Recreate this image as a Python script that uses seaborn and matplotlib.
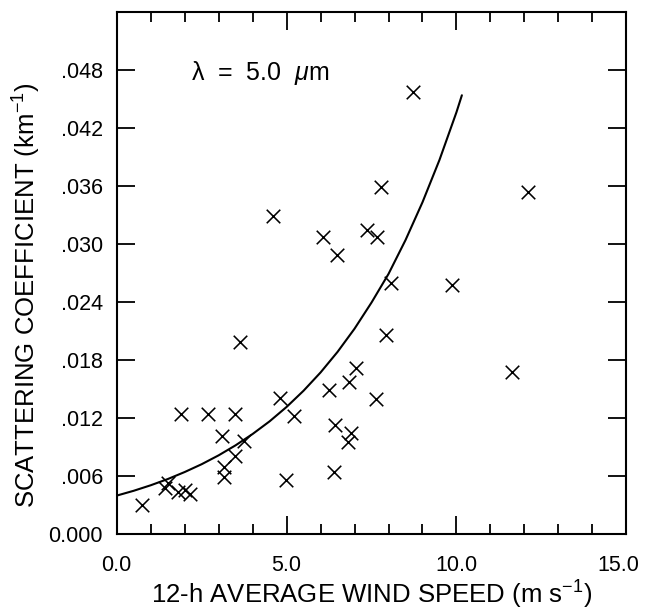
import matplotlib
matplotlib.use("Agg")
import matplotlib.pyplot as plt
from matplotlib.ticker import MultipleLocator
from matplotlib.transforms import ScaledTranslation
import seaborn as sns
import pandas as pd
import numpy as np

wind_speed = [0.74, 1.41, 1.50, 1.80, 2.00, 2.17, 1.88, 2.69, 3.47, 3.09,
              3.17, 3.17, 3.48, 3.76, 3.62, 4.81, 4.97, 5.21, 6.25, 6.43,
              6.41, 6.83, 7.03, 6.90, 6.80, 7.62, 7.93, 8.06, 9.87, 11.64,
              8.72, 7.78, 6.07, 6.48, 7.36, 7.66, 12.10, 4.60]
scattering = [0.0030, 0.0047, 0.0053, 0.0043, 0.0045, 0.0041, 0.0124, 0.0124, 0.0124, 0.0101,
              0.0069, 0.0059, 0.0081, 0.0096, 0.0199, 0.0141, 0.0056, 0.0122, 0.0149, 0.0113,
              0.0064, 0.0157, 0.0172, 0.0104, 0.0095, 0.0139, 0.0206, 0.0260, 0.0258, 0.0167,
              0.0457, 0.0359, 0.0307, 0.0289, 0.0314, 0.0307, 0.0354, 0.0329]

# fitted curve
curve_speed = [0.0, 0.5, 1.0, 1.5, 2.0, 2.5, 3.0, 3.5, 4.0, 4.5, 5.0, 5.5,
               6.0, 6.5, 7.0, 7.5, 8.0, 8.5, 9.0, 9.5, 10.0, 10.16]
curve_scatter = [0.00395, 0.00445, 0.00502, 0.00566, 0.00639, 0.00720, 0.00812, 0.00916,
                 0.01033, 0.01164, 0.01313, 0.01481, 0.01670, 0.01883, 0.02123, 0.02394,
                 0.02690, 0.03040, 0.03432, 0.03870, 0.04364, 0.04540]

x_ticks = [0.0, 5.0, 10.0, 15.0]
x_ticklabels = ["0.0", "5.0", "10.0", "15.0"]
y_ticks = [0.0, 0.006, 0.012, 0.018, 0.024, 0.030, 0.036, 0.042, 0.048]
y_ticklabels = ["0.000", ".006", ".012", ".018", ".024", ".030", ".036", ".042", ".048"]

sns.set_theme(style="ticks")
plt.rcParams["font.family"] = ["Liberation Sans", "DejaVu Sans"]
plt.rcParams["mathtext.fontset"] = "custom"
plt.rcParams["mathtext.rm"] = "Liberation Sans"
plt.rcParams["mathtext.it"] = "Liberation Sans:italic"

points = pd.DataFrame({"speed": wind_speed, "coef": scattering})
fit = pd.DataFrame({"speed": curve_speed, "coef": curve_scatter})

fig = plt.figure(figsize=(6.45, 6.10), dpi=100)
ax = fig.add_axes([0.181, 0.125, 0.790, 0.855])

sns.lineplot(data=fit, x="speed", y="coef", color="black", linewidth=1.5,
             sort=False, ax=ax)
sns.scatterplot(data=points, x="speed", y="coef", marker="x", color="black",
                s=95, linewidth=1.15, ax=ax)

ax.set_xlim(0, 15)
ax.set_ylim(0, 0.054)

ax.set_xticks(x_ticks)
ax.set_xticklabels(x_ticklabels)
ax.xaxis.set_minor_locator(MultipleLocator(1))
ax.set_yticks(y_ticks)
ax.set_yticklabels(y_ticklabels)

ax.tick_params(which="both", direction="in", top=True, right=True,
               colors="black", labelsize=15.5, width=1.3)
ax.tick_params(which="major", length=13)
ax.tick_params(which="minor", length=7)
ax.tick_params(axis="x", which="major", pad=15)
ax.tick_params(axis="y", which="major", pad=10)
for spine in ax.spines.values():
    spine.set_linewidth(1.5)
    spine.set_color("black")

# last x tick label sits a little left of the frame edge, as in the original
last = ax.get_xticklabels()[-1]
last.set_transform(last.get_transform() + ScaledTranslation(-6 / 72, 0, fig.dpi_scale_trans))

ax.set_xlabel("12-h AVERAGE WIND SPEED (m s$^{-1}$)", fontsize=18.5,
              color="black", va="center")
ax.set_ylabel("SCATTERING COEFFICIENT (km$^{-1}$)", fontsize=18.5,
              color="black", va="center")
ax.xaxis.set_label_coords(0.5, -0.118)
ax.yaxis.set_label_coords(-0.176, 0.458)

ax.text(2.18, 0.0477, "λ  =  5.0  $\\mathit{\\mu}$m", fontsize=18,
        va="center", ha="left", color="black")

fig.savefig("out.png", dpi=100)
